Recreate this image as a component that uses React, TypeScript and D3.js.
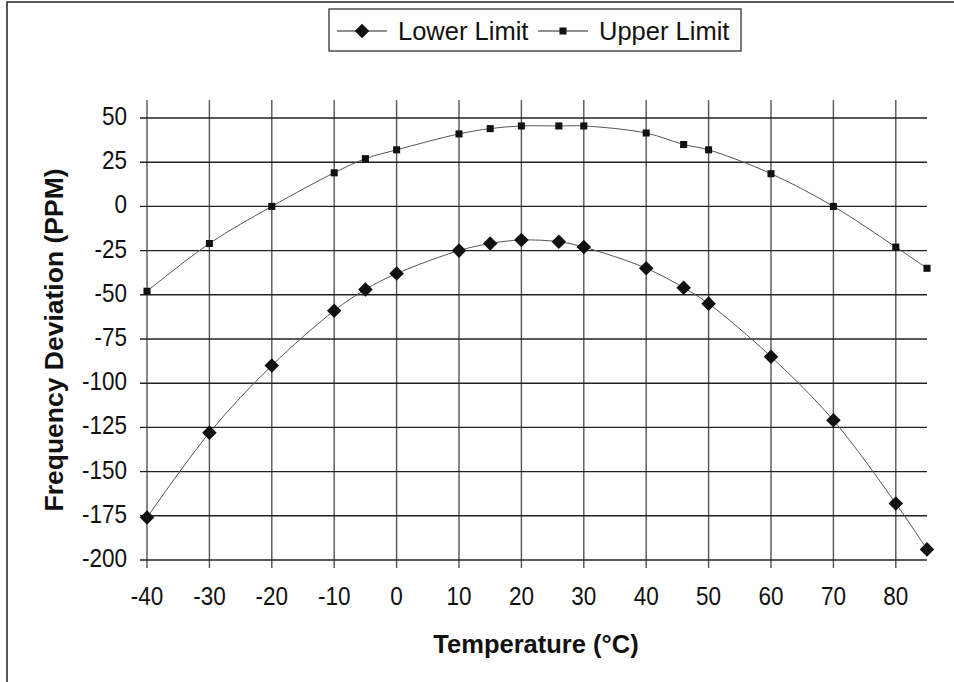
import React, { useEffect, useRef } from 'react'
import * as d3 from 'd3'

const temps = [-40, -30, -20, -10, -5, 0, 10, 15, 20, 26, 30, 40, 46, 50, 60, 70, 80, 85]
const lowerLimit = [-176, -128, -90, -59, -47, -38, -25, -21, -19, -20, -23, -35, -46, -55, -85, -121, -168, -194]
const upperLimit = [-48, -21, 0, 19, 27, 32, 41, 44, 45.5, 45.5, 45.5, 41.5, 35, 32, 18.5, 0, -23, -35]
const xTicks = [-40, -30, -20, -10, 0, 10, 20, 30, 40, 50, 60, 70, 80]
const yTicks = [50, 25, 0, -25, -50, -75, -100, -125, -150, -175, -200]

export default function App() {
    const svgRef = useRef<SVGSVGElement>(null)

    useEffect(() => {
        const svg = d3.select(svgRef.current)
        svg.selectAll('*').remove()
        const font = 'Liberation Sans, Arial, sans-serif'

        const x = d3.scaleLinear().domain([-40, 85]).range([147, 927])
        const y = d3.scaleLinear().domain([-200, 50]).range([560, 118])

        // chart frame
        svg.append('rect')
            .attr('x', 7).attr('y', 2).attr('width', 960).attr('height', 700)
            .attr('fill', 'white').attr('stroke', '#222').attr('stroke-width', 1.5)

        // vertical grid
        svg.append('g').selectAll('line').data(xTicks).enter().append('line')
            .attr('x1', (d) => x(d)).attr('x2', (d) => x(d))
            .attr('y1', 100).attr('y2', 568)
            .attr('stroke', '#555').attr('stroke-width', 1.4)

        // horizontal grid
        svg.append('g').selectAll('line').data(yTicks).enter().append('line')
            .attr('x1', 140).attr('x2', x(85))
            .attr('y1', (d) => y(d)).attr('y2', (d) => y(d))
            .attr('stroke', '#222').attr('stroke-width', 1.4)

        svg.append('g').selectAll('text').data(yTicks).enter().append('text')
            .attr('transform', (d) => `translate(127, ${y(d) + 7}) scale(0.9, 1)`)
            .attr('text-anchor', 'end')
            .attr('font-family', font).attr('font-size', 25).attr('fill', '#111')
            .text((d) => d)

        svg.append('g').selectAll('text').data(xTicks).enter().append('text')
            .attr('transform', (d) => `translate(${x(d)}, 605) scale(0.9, 1)`)
            .attr('text-anchor', 'middle')
            .attr('font-family', font).attr('font-size', 25).attr('fill', '#111')
            .text((d) => d)

        svg.append('text')
            .attr('x', 536).attr('y', 653)
            .attr('text-anchor', 'middle')
            .attr('font-family', font).attr('font-size', 25.5).attr('font-weight', 'bold').attr('fill', '#111')
            .text('Temperature (°C)')

        svg.append('text')
            .attr('transform', 'translate(63, 340) rotate(-90)')
            .attr('text-anchor', 'middle')
            .attr('font-family', font).attr('font-size', 26.5).attr('font-weight', 'bold').attr('fill', '#111')
            .text('Frequency Deviation (PPM)')

        const line = d3.line<number>()
            .x((d, i) => x(temps[i]))
            .y((d) => y(d))
            .curve(d3.curveCatmullRom)

        const diamond = d3.symbol().type(d3.symbolDiamond2).size(135)
        const square = d3.symbol().type(d3.symbolSquare).size(50)

        const series = [
            { name: 'Lower Limit', values: lowerLimit, symbol: diamond },
            { name: 'Upper Limit', values: upperLimit, symbol: square },
        ]

        series.forEach((s) => {
            svg.append('path')
                .attr('d', line(s.values))
                .attr('fill', 'none').attr('stroke', '#555').attr('stroke-width', 1)
            svg.append('g').selectAll('path').data(s.values).enter().append('path')
                .attr('transform', (d, i) => `translate(${x(temps[i])}, ${y(d)})`)
                .attr('d', s.symbol())
                .attr('fill', '#111')
        })

        // legend
        const lg = svg.append('g')
        lg.append('rect')
            .attr('x', 329).attr('y', 9).attr('width', 412).attr('height', 42)
            .attr('fill', 'white').attr('stroke', '#222').attr('stroke-width', 1.2)
        const legendX = [337, 538]
        series.forEach((s, i) => {
            const lx = legendX[i]
            lg.append('line')
                .attr('x1', lx).attr('x2', lx + 50).attr('y1', 31).attr('y2', 31)
                .attr('stroke', '#222').attr('stroke-width', 1)
            lg.append('path')
                .attr('transform', `translate(${lx + 25}, 31)`)
                .attr('d', s.symbol()).attr('fill', '#111')
            lg.append('text')
                .attr('x', lx + 61).attr('y', 40)
                .attr('font-family', font).attr('font-size', 25.5).attr('fill', '#111')
                .text(s.name)
        })
    }, [])

    return (
        <svg ref={svgRef} width={954} height={682}
            style={{ position: 'absolute', left: 0, top: 0, background: 'white' }} />
    )
}
